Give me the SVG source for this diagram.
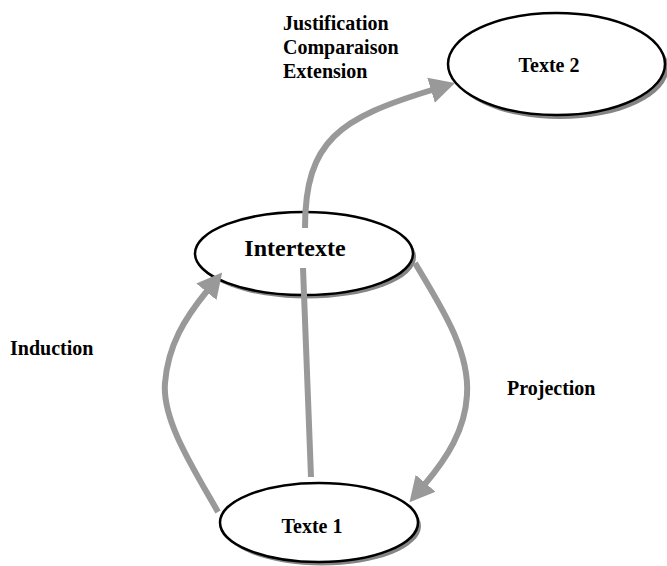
<svg xmlns="http://www.w3.org/2000/svg" width="667" height="566" viewBox="0 0 667 566">
<style>
.shadow{fill:#858585;stroke:none}
.node{fill:#fff;stroke:#000;stroke-width:2.5}
.t{font-family:"Liberation Serif","Times New Roman",serif;font-weight:bold;font-size:20px;fill:#000}
.c{fill:none;stroke:#999;stroke-width:6}
</style>
<defs>
<marker id="ah" markerUnits="userSpaceOnUse" markerWidth="28" markerHeight="30" viewBox="-1 -15 28 30" refX="0" refY="0" orient="auto">
<path d="M-1,-13 L24,0 L-1,13 z" fill="#999"/>
</marker>
</defs>
<rect width="667" height="566" fill="#fff"/>
<g id="texte2">
<ellipse class="shadow" cx="560" cy="68" rx="108.5" ry="51"/>
<ellipse class="node" cx="556.5" cy="64" rx="108.5" ry="51"/>
<text class="t" x="549" y="72" text-anchor="middle">Texte 2</text>
</g>
<g id="intertexte">
<ellipse class="shadow" cx="307" cy="257" rx="109" ry="41.5"/>
<ellipse class="node" cx="304" cy="253.5" rx="109" ry="41.5"/>
<text class="t" x="295" y="256" text-anchor="middle" style="font-size:24px">Intertexte</text>
</g>
<g id="texte1">
<ellipse class="shadow" cx="322" cy="526" rx="99" ry="39.5"/>
<ellipse class="node" cx="319" cy="522.5" rx="99" ry="39.5"/>
<text class="t" x="312" y="533" text-anchor="middle">Texte 1</text>
</g>
<g id="connectors">
<path class="c" d="M305,228 C305,140 340,118 432,90" marker-end="url(#ah)"/>
<path class="c" d="M303,268 L311,477"/>
<path class="c" d="M218,512 C193,468 162,420 165,383 C168,345 185,318 207,291" marker-end="url(#ah)"/>
<path class="c" d="M415,263 C440,305 470,350 467,395 C465,430 447,458 425,484" marker-end="url(#ah)"/>
</g>
<g id="labels">
<text class="t" x="283" y="30">Justification</text>
<text class="t" x="283" y="54">Comparaison</text>
<text class="t" x="283" y="78">Extension</text>
<text class="t" x="10" y="355">Induction</text>
<text class="t" x="507" y="395">Projection</text>
</g>
</svg>
